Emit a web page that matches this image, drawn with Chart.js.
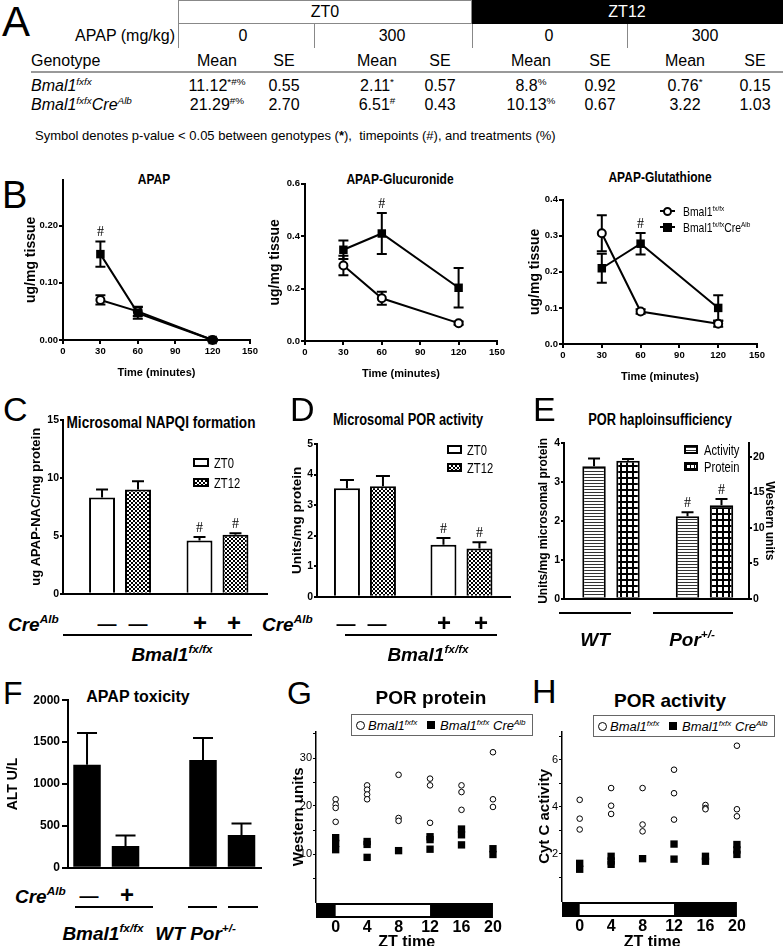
<!DOCTYPE html>
<html>
<head>
<meta charset="utf-8">
<script src="https://cdn.jsdelivr.net/npm/chart.js@4.4.1/dist/chart.umd.min.js"></script>
<style>
html, body { margin: 0; padding: 0; background: #fff; }
body { width: 783px; height: 946px; position: relative; overflow: hidden; font-family: "Liberation Sans", Arial, sans-serif; color: #000; }
.t { position: absolute; white-space: nowrap; line-height: 1; }
.c { transform: translate(-50%, -50%); }
.l { transform: translate(0, -50%); }
.r { transform: translate(-100%, -50%); }
.c.nar { transform: translate(-50%, -50%) scaleX(0.8); }
.l.nar { transform: translate(0, -50%) scaleX(0.8); transform-origin: 0 50%; }
canvas { position: absolute; }
sup { font-size: 62%; vertical-align: baseline; position: relative; top: -0.65em; }
.bi { font-weight: bold; font-style: italic; }
.letter { font-size: 38px; }
</style>
</head>
<body>
<script>
// ---------- panel A table ----------
const tablePhases = ['ZT0', 'ZT12'];
const tableDoses = ['0', '300', '0', '300'];
const floxMean = ['11.12', '2.11', '8.8', '0.76'];
const floxSig = ['*#%', '*', '%', '*'];
const floxSE = ['0.55', '0.57', '0.92', '0.15'];
const creMean = ['21.29', '6.51', '10.13', '3.22'];
const creSig = ['#%', '#', '%', ''];
const creSE = ['2.70', '0.43', '0.67', '1.03'];

// ---------- panel B (ug/mg tissue) ----------
const timeMin = [30, 60, 120];
const timeTicks = [0, 30, 60, 90, 120, 150];
const apapFlox = [0.07, 0.05, 0.0];
const apapFloxSE = [0.008, 0.008, 0.002];
const apapCre = [0.15, 0.047, 0.0];
const apapCreSE = [0.022, 0.01, 0.002];
const apapMark = ['#', '', ''];
const apapTicks = [0, 0.1, 0.2];
const glucFlox = [0.288, 0.163, 0.068];
const glucFloxSE = [0.037, 0.025, 0.006];
const glucCre = [0.348, 0.41, 0.203];
const glucCreSE = [0.035, 0.078, 0.075];
const glucMark = ['', '#', ''];
const glucTicks = [0, 0.2, 0.4, 0.6];
const gshFlox = [0.307, 0.09, 0.056];
const gshFloxSE = [0.05, 0.006, 0.008];
const gshCre = [0.21, 0.278, 0.1];
const gshCreSE = [0.04, 0.03, 0.035];
const gshMark = ['', '#', ''];
const gshTicks = [0, 0.1, 0.2, 0.3, 0.4];

// ---------- panels C, D, E, F (groups: Cre- / Cre+, WT / Por+/-) ----------
const groupPos = [1, 2];
const napqiZT0 = [8.3, 4.6];
const napqiZT0SE = [0.7, 0.3];
const napqiZT12 = [9.0, 5.1];
const napqiZT12SE = [0.7, 0.12];
const napqiMark = ['', '#'];
const napqiTicks = [0, 5, 10, 15];
const porZT0 = [3.55, 1.70];
const porZT0SE = [0.27, 0.22];
const porZT12 = [3.62, 1.58];
const porZT12SE = [0.33, 0.2];
const porMark = ['', '#'];
const porTicks = [0, 1, 2, 3, 4, 5];
const haploActivity = [3.4, 2.12];
const haploActivitySE = [0.2, 0.1];
const haploProtein = [19.5, 13.2];
const haploProteinSE = [0.25, 0.9];
const haploMark = ['', '#'];
const haploTicks = [0, 1, 2, 3, 4];
const haploWesternTicks = [0, 5, 10, 15, 20];
const altControl = [1230, 1285];
const altControlSE = [380, 265];
const altLow = [260, 392];
const altLowSE = [125, 138];
const altTicks = [0, 500, 1000, 1500, 2000];

// ---------- panels G, H (per animal, by ZT) ----------
const ztTicks = [0, 4, 8, 12, 16, 20];
const lightOn = 0, lightOff = 12, lastZT = 20;
const protFloxZT = [0, 0, 0, 0, 4, 4, 4, 4, 8, 8, 8, 12, 12, 12, 16, 16, 16, 20, 20, 20];
const protFlox = [21.4, 20.3, 19.6, 16.7, 24.3, 23.4, 22.4, 21.4, 26.5, 17.5, 16.9, 25.7, 24.3, 16.5, 24.3, 22.9, 19.2, 31.2, 21.4, 19.8];
const protCreZT = [0, 0, 0, 4, 4, 4, 8, 12, 12, 12, 16, 16, 16, 20, 20];
const protCre = [13.4, 12.2, 10.9, 12.6, 12.0, 9.3, 10.7, 13.6, 13.0, 11.0, 15.2, 14.0, 11.9, 11.1, 9.9];
const protTicks = [5, 10, 15, 20, 25, 30, 35];
const actFloxZT = [0, 0, 0, 4, 4, 4, 8, 8, 8, 12, 12, 12, 16, 16, 16, 20, 20, 20];
const actFlox = [4.3, 3.5, 3.04, 4.8, 4.05, 3.7, 4.8, 3.25, 2.96, 5.58, 4.58, 3.46, 4.08, 3.95, 3.9, 6.6, 3.9, 3.6];
const actCreZT = [0, 0, 4, 4, 4, 8, 12, 12, 16, 16, 20, 20, 20];
const actCre = [1.6, 1.35, 1.9, 1.7, 1.56, 1.8, 2.42, 1.78, 1.9, 1.69, 2.4, 2.17, 1.98];
const actTicks = [1, 2, 3, 4, 5, 6, 7];

// ---------- helpers ----------
const SANS = '"Liberation Sans", Arial, sans-serif';
Chart.defaults.font.family = SANS;
Chart.defaults.color = '#000';

function txt(html, x, y, cls, style) {
  const d = document.createElement('div');
  d.className = 't ' + (cls || 'c');
  d.innerHTML = html;
  d.style.left = x + 'px';
  d.style.top = y + 'px';
  if (style) d.style.cssText += style;
  document.body.appendChild(d);
  return d;
}
function box(x, y, w, h, style) {
  const d = document.createElement('div');
  d.style.cssText = 'position:absolute;box-sizing:border-box;left:' + x + 'px;top:' + y + 'px;width:' + w + 'px;height:' + h + 'px;' + (style || '');
  document.body.appendChild(d);
  return d;
}
function hline(x, y, w) { box(x, y, w, 2, 'background:#000'); }

function place(b) {
  const c = document.createElement('canvas');
  c.width = Math.round(b.wy + (b.r - b.l) + (b.wr || 0) + (b.pr || 0));
  c.height = Math.round((b.pt || 0) + (b.b - b.t) + b.hx);
  c.style.left = (b.l - b.wy) + 'px';
  c.style.top = (b.t - (b.pt || 0)) + 'px';
  document.body.appendChild(c);
  return c;
}
function baseOptions(b) {
  return {
    responsive: false, animation: false, events: [],
    layout: { autoPadding: false, padding: { top: b.pt || 0, right: b.pr || 0, left: 0, bottom: 0 } },
    plugins: { legend: { display: false }, tooltip: { enabled: false } }
  };
}
function fixedTicks(list) { return s => { s.ticks = list.map(v => ({ value: v })); }; }
function yAxis(b, min, max, ticks, fmt, tickFont, title, titleFont, tickLen, pad) {
  return {
    type: 'linear', min, max, position: 'left',
    afterFit: s => { s.width = b.wy; },
    afterBuildTicks: fixedTicks(ticks),
    border: { color: '#000', width: 2 },
    grid: { drawOnChartArea: false, color: '#000', lineWidth: 2, tickLength: tickLen },
    ticks: { color: '#000', font: tickFont, padding: pad, autoSkip: false, callback: fmt },
    title: { display: !!title, text: title, color: '#000', font: titleFont, padding: 0 }
  };
}
function groupAxis(b, min, max) {
  return {
    type: 'linear', min, max, offset: false,
    afterFit: s => { s.height = b.hx; },
    afterBuildTicks: fixedTicks(groupPos),
    border: { color: '#000', width: 2 },
    grid: { display: false, drawTicks: false, offset: false },
    ticks: { display: false }
  };
}
function pts(xs, ys) { return xs.map((x, i) => ({ x, y: ys[i] })); }

function errPlugin(both, cap, before) {
  const draw = chart => {
    const ctx = chart.ctx;
    chart.data.datasets.forEach((ds, di) => {
      const meta = chart.getDatasetMeta(di);
      const ys = chart.scales[meta.yAxisID];
      meta.data.forEach((el, i) => {
        const v = ds.data[i].y;
        const e = ds.errors ? ds.errors[i] : 0;
        ctx.save();
        ctx.strokeStyle = '#000';
        ctx.lineWidth = 2;
        if (ds.errors) {
          const yt = ys.getPixelForValue(v + e);
          const yb = both ? ys.getPixelForValue(v - e) : el.y;
          ctx.beginPath();
          ctx.moveTo(el.x, yt); ctx.lineTo(el.x, yb);
          ctx.moveTo(el.x - cap, yt); ctx.lineTo(el.x + cap, yt);
          if (both) { ctx.moveTo(el.x - cap, yb); ctx.lineTo(el.x + cap, yb); }
          ctx.stroke();
        }
        if (ds.marks && ds.marks[i]) {
          ctx.fillStyle = '#000';
          ctx.font = '14px "Liberation Serif", serif';
          ctx.textAlign = 'center';
          ctx.textBaseline = 'bottom';
          ctx.fillText(ds.marks[i], el.x, ys.getPixelForValue(v + e) - 2);
        }
        ctx.restore();
      });
    });
  };
  return before ? { id: 'errBars', beforeDatasetsDraw: draw } : { id: 'errBars', afterDatasetsDraw: draw };
}
function lightBand() {
  return {
    id: 'lightBand',
    afterDraw(chart) {
      const xs = chart.scales.x, ctx = chart.ctx, top = chart.chartArea.bottom + 1, h = 15;
      const x0 = chart.chartArea.left, xEnd = xs.getPixelForValue(lastZT);
      const xOn = xs.getPixelForValue(lightOn), xOff = xs.getPixelForValue(lightOff);
      ctx.save();
      ctx.fillStyle = '#000';
      ctx.fillRect(x0, top, xEnd - x0, h);
      ctx.fillStyle = '#fff';
      ctx.fillRect(xOn, top + 2, xOff - xOn, h - 4);
      ctx.restore();
    }
  };
}
function makePattern(kind) {
  const c = document.createElement('canvas');
  const g = c.getContext('2d');
  if (kind === 'checker') {
    c.width = c.height = 4;
    g.fillStyle = '#fff'; g.fillRect(0, 0, 4, 4);
    g.fillStyle = '#000'; g.fillRect(0, 0, 2, 2); g.fillRect(2, 2, 2, 2);
  } else if (kind === 'stripe') {
    c.width = 4; c.height = 3;
    g.fillStyle = '#fff'; g.fillRect(0, 0, 4, 3);
    g.fillStyle = '#333'; g.fillRect(0, 0, 4, 1);
  } else {
    c.width = c.height = 6;
    g.fillStyle = '#fff'; g.fillRect(0, 0, 6, 6);
    g.fillStyle = '#000'; g.fillRect(0, 0, 6, 2); g.fillRect(0, 0, 2, 6);
  }
  return g.createPattern(c, 'repeat');
}
const checker = makePattern('checker');
const stripe = makePattern('stripe');
const grid = makePattern('grid');

const tickB = { family: SANS, size: 9.5, weight: 'bold' };
const titleY14 = { family: SANS, size: 14, weight: 'bold' };
const CHECK_CSS = 'border:2px solid #000;background:repeating-conic-gradient(#000 0 25%, #fff 0 50%) 0 0/4px 4px';

// ---------- A ----------
txt('A', 2, 22, 'l letter', 'font-size:42px');
box(178, 0, 294, 24, 'border:1px solid #888');
box(472, 0, 311, 24, 'background:#000');
txt(tablePhases[0], 325, 12, 'c', 'font-size:16px');
txt(tablePhases[1], 627, 12, 'c', 'font-size:16px;color:#fff');
txt('APAP (mg/kg)', 175, 36, 'r', 'font-size:16px');
[178, 314, 472, 627].forEach(x => box(x, 24, 1, 24, 'background:#888'));
const doseX = [243, 392, 549, 705], meanX = [217, 377, 531, 685], seX = [284, 440, 600, 755];
tableDoses.forEach((d, i) => txt(d, doseX[i], 36, 'c', 'font-size:16px'));
txt('Genotype', 31, 61, 'l', 'font-size:16px');
meanX.forEach((x, i) => { txt('Mean', x, 61, 'c', 'font-size:16px'); txt('SE', seX[i], 61, 'c', 'font-size:16px'); });
box(31, 71, 752, 2, 'background:#999');
txt('<i>Bmal1<sup>fxfx</sup></i>', 31, 86, 'l', 'font-size:16px');
txt('<i>Bmal1<sup>fxfx</sup>Cre<sup>Alb</sup></i>', 31, 105, 'l', 'font-size:16px');
meanX.forEach((x, i) => {
  txt(floxMean[i] + (floxSig[i] ? '<sup>' + floxSig[i] + '</sup>' : ''), x, 86, 'c', 'font-size:16px');
  txt(floxSE[i], seX[i], 86, 'c', 'font-size:16px');
  txt(creMean[i] + (creSig[i] ? '<sup>' + creSig[i] + '</sup>' : ''), x, 105, 'c', 'font-size:16px');
  txt(creSE[i], seX[i], 105, 'c', 'font-size:16px');
});
txt('Symbol denotes p-value &lt; 0.05 between genotypes (<b>*</b>),&nbsp; timepoints (#), and treatments (%)', 35, 135, 'l', 'font-size:13px');

// ---------- B ----------
txt('B', 2, 195, 'l letter');
function timeChart(b, title, titleX, titleY, flox, floxSE, cre, creSE, marks, max, ticks, dec) {
  txt(title, titleX, titleY, 'c nar', 'font-size:15px;font-weight:bold');
  const o = baseOptions(b);
  o.scales = {
    x: {
      type: 'linear', min: 0, max: 150,
      afterFit: s => { s.height = b.hx; },
      afterBuildTicks: fixedTicks(timeTicks),
      border: { color: '#000', width: 2 },
      grid: { drawOnChartArea: false, color: '#000', lineWidth: 2, tickLength: 4 },
      ticks: { color: '#000', font: tickB, padding: 2, maxRotation: 0, autoSkip: false },
      title: { display: true, text: 'Time (minutes)', color: '#000', font: { family: SANS, size: 11, weight: 'bold' }, padding: 0 }
    },
    y: yAxis(b, 0, max, ticks, v => v.toFixed(dec), tickB, 'ug/mg tissue', titleY14, 4, 1)
  };
  new Chart(place(b), {
    type: 'scatter',
    data: {
      datasets: [
        { label: 'Bmal1 fx/fx', data: pts(timeMin, flox), errors: floxSE, showLine: true, clip: false, order: 1,
          borderColor: '#000', borderWidth: 2, pointStyle: 'circle', pointRadius: 4, pointBorderWidth: 2,
          pointBackgroundColor: '#fff', pointBorderColor: '#000' },
        { label: 'Bmal1 fx/fx CreAlb', data: pts(timeMin, cre), errors: creSE, marks, showLine: true, clip: false, order: 0,
          borderColor: '#000', borderWidth: 2, pointStyle: 'rect', pointRadius: 6, pointBorderWidth: 0,
          pointBackgroundColor: '#000', pointBorderColor: '#000' }
      ]
    },
    options: o,
    plugins: [errPlugin(true, 5, true)]
  });
}
timeChart({ l: 63, t: 177, r: 250, b: 340, wy: 40, hx: 40, pt: 4, pr: 10 }, 'APAP', 154, 178,
  apapFlox, apapFloxSE, apapCre, apapCreSE, apapMark, 0.28, apapTicks, 2);
timeChart({ l: 305, t: 181, r: 497, b: 341, wy: 38, hx: 40, pt: 4, pr: 10 }, 'APAP-Glucuronide', 400, 178,
  glucFlox, glucFloxSE, glucCre, glucCreSE, glucMark, 0.6, glucTicks, 1);
timeChart({ l: 563, t: 197, r: 757, b: 344, wy: 36, hx: 40, pt: 4, pr: 10 }, 'APAP-Glutathione', 660, 176,
  gshFlox, gshFloxSE, gshCre, gshCreSE, gshMark, 0.4, gshTicks, 1);
// B legend
box(660, 210, 15, 2, 'background:#000');
box(663, 207, 9, 9, 'border:2px solid #000;border-radius:50%;background:#fff');
txt('Bmal1<sup>fx/fx</sup>', 683, 212, 'l nar', 'font-size:13px');
box(660, 226, 15, 2, 'background:#000');
box(663, 223, 9, 9, 'background:#000');
txt('Bmal1<sup>fx/fx</sup>Cre<sup>Alb</sup>', 683, 228, 'l nar', 'font-size:13px');

// ---------- C, D, E ----------
function pairChart(b, title, titleX, titleY, titleSize, yTitle, yTitleFont, ticks, max, xmin, xmax, sets, catPct, barPct, cap, extraScales) {
  txt(title, titleX, titleY, 'c nar', 'font-size:' + titleSize + 'px;font-weight:bold');
  const o = baseOptions(b);
  o.scales = Object.assign({
    x: groupAxis(b, xmin, xmax),
    y: yAxis(b, 0, max, ticks, v => String(v), { family: SANS, size: 10.5, weight: 'bold' }, yTitle, yTitleFont, 3, 1)
  }, extraScales || {});
  o.datasets = { bar: { categoryPercentage: catPct, barPercentage: barPct } };
  new Chart(place(b), {
    type: 'bar',
    data: { datasets: sets.map(s => Object.assign({ borderColor: '#000', borderWidth: 2, borderSkipped: 'bottom' }, s)) },
    options: o,
    plugins: [errPlugin(false, cap, false)]
  });
}
txt('C', 3, 409, 'l letter', 'font-size:34px');
pairChart({ l: 63, t: 420, r: 267, b: 598, wy: 34, hx: 3, pt: 8, pr: 4 }, 'Microsomal NAPQI formation', 161, 422, 17,
  'ug APAP-NAC/mg protein', { family: SANS, size: 13, weight: 'bold' }, napqiTicks, 15, 0.415, 2.508,
  [
    { label: 'ZT0', data: pts(groupPos, napqiZT0), errors: napqiZT0SE, marks: napqiMark, backgroundColor: '#fff' },
    { label: 'ZT12', data: pts(groupPos, napqiZT12), errors: napqiZT12SE, marks: napqiMark, backgroundColor: checker }
  ], 0.738, 0.722, 6);
box(193, 458, 16, 9, 'border:2px solid #000;background:#fff');
txt('ZT0', 214, 463, 'l nar', 'font-size:14px');
box(193, 478, 16, 9, CHECK_CSS);
txt('ZT12', 214, 483, 'l nar', 'font-size:14px');

txt('D', 290, 409, 'l letter', 'font-size:34px');
pairChart({ l: 317, t: 444, r: 510, b: 601, wy: 28, hx: 3, pt: 8, pr: 4 }, 'Microsomal POR activity', 408, 420, 16,
  'Units/mg protein', { family: SANS, size: 13.5, weight: 'bold' }, porTicks, 5, 0.503, 2.503,
  [
    { label: 'ZT0', data: pts(groupPos, porZT0), errors: porZT0SE, marks: porMark, backgroundColor: '#fff' },
    { label: 'ZT12', data: pts(groupPos, porZT12), errors: porZT12SE, marks: porMark, backgroundColor: checker }
  ], 0.746, 0.722, 7);
box(447, 445, 15, 9, 'border:2px solid #000;background:#fff');
txt('ZT0', 467, 450, 'l nar', 'font-size:14px');
box(447, 463, 15, 9, CHECK_CSS);
txt('ZT12', 467, 468, 'l nar', 'font-size:14px');

txt('E', 533, 409, 'l letter', 'font-size:34px');
const eBox = { l: 564, t: 443, r: 749, b: 603, wy: 28, wr: 28, hx: 3, pt: 8, pr: 0 };
pairChart(eBox, 'POR haploinsufficiency', 660, 420, 16,
  'Units/mg microsomal protein', { family: SANS, size: 12, weight: 'bold' }, haploTicks, 4, 0.497, 2.476,
  [
    { label: 'Activity', data: pts(groupPos, haploActivity), errors: haploActivitySE, marks: haploMark, backgroundColor: stripe, yAxisID: 'y' },
    { label: 'Protein', data: pts(groupPos, haploProtein), errors: haploProteinSE, marks: haploMark, backgroundColor: grid, yAxisID: 'y1' }
  ], 0.727, 0.69, 6,
  {
    y1: {
      type: 'linear', min: 0, max: 22, position: 'right',
      afterFit: s => { s.width = eBox.wr; },
      afterBuildTicks: fixedTicks(haploWesternTicks),
      border: { color: '#000', width: 2 },
      grid: { drawOnChartArea: false, color: '#000', lineWidth: 2, tickLength: 3 },
      ticks: { color: '#000', font: { family: SANS, size: 10.5, weight: 'bold' }, padding: 1, autoSkip: false },
      title: { display: true, text: 'Western units', color: '#000', font: { family: SANS, size: 12, weight: 'bold' }, padding: 0 }
    }
  });
box(684, 445, 14, 9, 'border:2px solid #000;background:repeating-linear-gradient(#333 0 1px, #fff 1px 3px)');
txt('Activity', 704, 450, 'l nar', 'font-size:14px');
box(684, 462, 14, 9, 'border:2px solid #000;background:linear-gradient(#000 1px, transparent 1px) 0 0/4px 4px, linear-gradient(90deg, #000 1px, #fff 1px) 0 0/4px 4px');
txt('Protein', 704, 467, 'l nar', 'font-size:14px');

// labels under C and D
txt('Cre<sup>Alb</sup>', 8, 624, 'l bi', 'font-size:19px');
[107, 138].forEach(x => txt('&mdash;', x, 623, 'c', 'font-size:19px;font-weight:bold'));
[200, 234].forEach(x => txt('+', x, 623, 'c', 'font-size:24px;font-weight:bold'));
hline(63, 634, 189);
txt('Bmal1<sup>fx/fx</sup>', 172, 654, 'c bi', 'font-size:19px');
txt('Cre<sup>Alb</sup>', 262, 624, 'l bi', 'font-size:19px');
[346, 377].forEach(x => txt('&mdash;', x, 623, 'c', 'font-size:19px;font-weight:bold'));
[444, 481].forEach(x => txt('+', x, 623, 'c', 'font-size:24px;font-weight:bold'));
hline(345, 634, 152);
txt('Bmal1<sup>fx/fx</sup>', 428, 654, 'c bi', 'font-size:19px');
hline(559, 612, 72);
hline(653, 612, 80);
txt('WT', 595, 639, 'c bi', 'font-size:19px');
txt('Por<sup>+/-</sup>', 692, 639, 'c bi', 'font-size:19px');

// ---------- F ----------
txt('F', 3, 693, 'l letter', 'font-size:32px');
const fBox = { l: 68, t: 697, r: 261, b: 874, wy: 63, hx: 3, pt: 6, pr: 4 };
txt('APAP toxicity', 138, 697, 'c', 'font-size:16px;font-weight:bold');
{
  const o = baseOptions(fBox);
  o.scales = {
    x: groupAxis(fBox, 0.67, 2.334),
    y: yAxis(fBox, 0, 2000, altTicks, v => String(v), { family: SANS, size: 12, weight: 'bold' }, 'ALT U/L', titleY14, 6, 2)
  };
  o.datasets = { bar: { categoryPercentage: 0.664, barPercentage: 0.714 } };
  new Chart(place(fBox), {
    type: 'bar',
    data: {
      datasets: [
        { label: 'Cre- / WT', data: pts(groupPos, altControl), errors: altControlSE, backgroundColor: '#000', borderColor: '#000', borderWidth: 0 },
        { label: 'Cre+ / Por+/-', data: pts(groupPos, altLow), errors: altLowSE, backgroundColor: '#000', borderColor: '#000', borderWidth: 0 }
      ]
    },
    options: o,
    plugins: [errPlugin(false, 10, false)]
  });
}
txt('Cre<sup>Alb</sup>', 15, 896, 'l bi', 'font-size:19px');
txt('&mdash;', 89, 895, 'c', 'font-size:19px;font-weight:bold');
txt('+', 127, 895, 'c', 'font-size:24px;font-weight:bold');
hline(75, 906, 78);
hline(188, 906, 29);
hline(228, 906, 30);
txt('Bmal1<sup>fx/fx</sup>', 103, 933, 'c bi', 'font-size:19px');
txt('WT', 170, 933, 'c bi', 'font-size:19px');
txt('Por<sup>+/-</sup>', 213, 933, 'c bi', 'font-size:19px');

// ---------- G, H ----------
function ztChart(b, title, titleX, titleY, yTitle, flxZT, flx, creZT, cre, max, ticks, labelEvery, xmin, xmax) {
  txt(title, titleX, titleY, 'c', 'font-size:19px;font-weight:bold');
  const o = baseOptions(b);
  const y = yAxis(b, 0, max, ticks, v => (v % labelEvery === 0 ? String(v) : ''), { family: SANS, size: 11 }, yTitle,
    { family: SANS, size: 15, weight: 'bold' }, 3, 1);
  y.border.width = 1.5;
  y.grid.lineWidth = 1;
  o.scales = {
    x: {
      type: 'linear', min: xmin, max: xmax,
      afterFit: s => { s.height = b.hx; },
      afterBuildTicks: fixedTicks(ztTicks),
      border: { display: false },
      grid: { display: false, drawTicks: false },
      ticks: { color: '#000', font: { family: SANS, size: 16, weight: 'bold' }, padding: 16, maxRotation: 0, autoSkip: false },
      title: { display: true, text: 'ZT time', color: '#000', font: { family: SANS, size: 16, weight: 'bold' }, padding: 0 }
    },
    y
  };
  new Chart(place(b), {
    type: 'scatter',
    data: {
      datasets: [
        { label: 'Bmal1 fxfx', data: pts(flxZT, flx), clip: false, pointStyle: 'circle', pointRadius: 2.8, pointBorderWidth: 1,
          pointBackgroundColor: '#fff', pointBorderColor: '#000' },
        { label: 'Bmal1 fxfx CreAlb', data: pts(creZT, cre), clip: false, pointStyle: 'rect', pointRadius: 5.2, pointBorderWidth: 0,
          pointBackgroundColor: '#000', pointBorderColor: '#000' }
      ]
    },
    options: o,
    plugins: [lightBand()]
  });
}
function ztLegend(x, y) {
  box(x, y, 182, 22, 'border:1px solid #666;background:#fff');
  box(x + 5, y + 7, 9, 9, 'border:1px solid #000;border-radius:50%');
  txt('Bmal1<sup>fxfx</sup>', x + 17, y + 12, 'l', 'font-size:13px;font-style:italic');
  box(x + 76, y + 7, 8, 8, 'background:#000');
  txt('Bmal1<sup>fxfx</sup> Cre<sup>Alb</sup>', x + 89, y + 12, 'l', 'font-size:13px;font-style:italic');
}
txt('G', 287, 693, 'l letter', 'font-size:32px');
ztChart({ l: 316, t: 728, r: 512, b: 902, wy: 26, hx: 50, pt: 4, pr: 6 }, 'POR protein', 431, 697, 'Western units',
  protFloxZT, protFlox, protCreZT, protCre, 35.5, protTicks, 10, -2.5, 20.56);
ztLegend(351, 714);
txt('H', 532, 691, 'l letter', 'font-size:34px');
ztChart({ l: 562, t: 728, r: 756, b: 901, wy: 26, hx: 51, pt: 4, pr: 6 }, 'POR activity', 670, 700, 'Cyt C activity',
  actFloxZT, actFlox, actCreZT, actCre, 7.2, actTicks, 2, -2.25, 20.7);
ztLegend(593, 715);
</script>
</body>
</html>
